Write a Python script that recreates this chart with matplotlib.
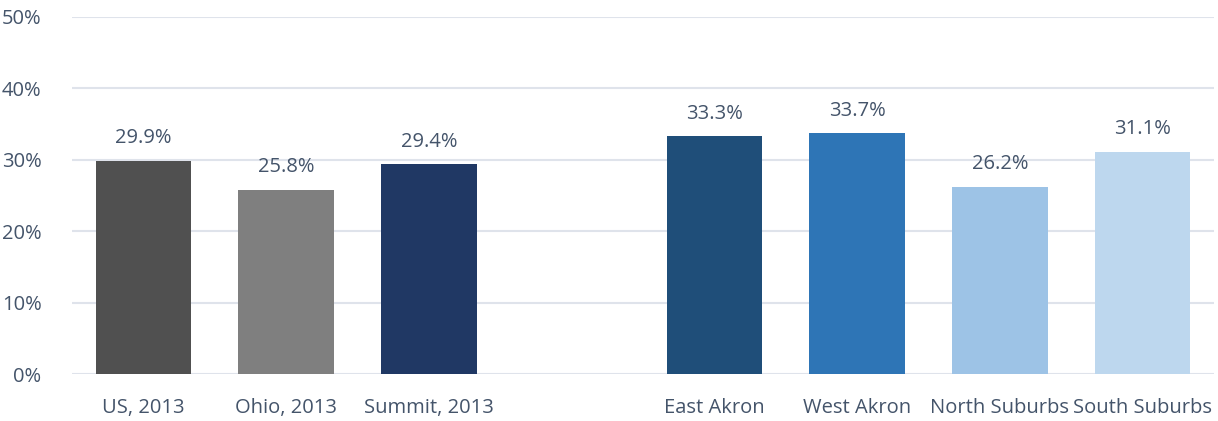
import numpy as np
import matplotlib.pyplot as plt
from matplotlib.ticker import FuncFormatter

categories = ['US, 2013', 'Ohio, 2013', 'Summit, 2013', '',
              'East Akron', 'West Akron', 'North Suburbs', 'South Suburbs']
values = [29.9, 25.8, 29.4, np.nan, 33.3, 33.7, 26.2, 31.1]
colors = ['#505050', '#7f7f7f', '#203864', 'none',
          '#1f4e79', '#2e75b6', '#9dc3e6', '#bdd7ee']

text_color = '#44546a'
plt.rcParams['font.family'] = ['Open Sans', 'DejaVu Sans']

fig = plt.figure(figsize=(12.18, 4.21), dpi=100)
ax = fig.add_axes([72 / 1218, 1 - 374 / 421, 1142 / 1218, 357 / 421])

x = np.arange(len(categories))
bars = ax.bar(x, values, width=0.67, color=colors, zorder=3)

for xi, v in zip(x, values):
    if np.isnan(v):
        continue
    ax.annotate(f'{v:.1f}%', (xi, v), xytext=(0, 9), textcoords='offset points',
                ha='center', va='bottom', fontsize=14.5, color=text_color)

ax.set_xlim(-0.5, len(categories) - 0.5)
ax.set_ylim(0, 50)
ax.set_yticks(np.arange(0, 51, 10))
ax.yaxis.set_major_formatter(FuncFormatter(lambda v, p: f'{v:.0f}%'))
ax.set_xticks(x)
ax.set_xticklabels(categories)
ax.grid(axis='y', color='#dfe3eb', linewidth=1.5, zorder=0)
for s in ax.spines.values():
    s.set_visible(False)
ax.tick_params(axis='both', length=0, labelsize=14.5, labelcolor=text_color)
ax.tick_params(axis='y', pad=22)
ax.tick_params(axis='x', pad=17)

fig.savefig('out.png', dpi=100)
